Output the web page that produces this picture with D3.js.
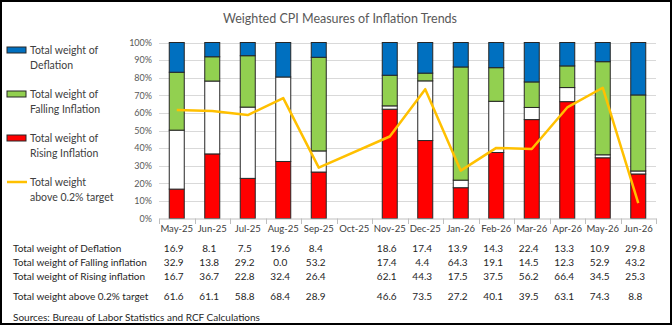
<!DOCTYPE html>
<html>
<head>
<meta charset="utf-8">
<script src="https://cdn.jsdelivr.net/npm/d3@7"></script>
<style>
  html, body { margin: 0; padding: 0; background: #fff; }
  svg { display: block; font-family: Lato, "Open Sans", sans-serif; }
</style>
</head>
<body>
<div id="chart"></div>
<script>
// --- data (percent of CPI weight) ---
const categories = ["May-25","Jun-25","Jul-25","Aug-25","Sep-25","Oct-25","Nov-25",
                    "Dec-25","Jan-26","Feb-26","Mar-26","Apr-26","May-26","Jun-26"];
const deflation   = [16.9, 8.1, 7.5, 19.6, 8.4, null, 18.6, 17.4, 13.9, 14.3, 22.4, 13.3, 10.9, 29.8];
const falling     = [32.9, 13.8, 29.2, 0.0, 53.2, null, 17.4, 4.4, 64.3, 19.1, 14.5, 12.3, 52.9, 43.2];
const rising      = [16.7, 36.7, 22.8, 32.4, 26.4, null, 62.1, 44.3, 17.5, 37.5, 56.2, 66.4, 34.5, 25.3];
const aboveTarget = [61.6, 61.1, 58.8, 68.4, 28.9, null, 46.6, 73.5, 27.2, 40.1, 39.5, 63.1, 74.3, 8.8];
const yTicks = [0, 10, 20, 30, 40, 50, 60, 70, 80, 90, 100];

const W = 672, H = 325;
const COLORS = { rising: "#FF0000", other: "#FFFFFF", falling: "#92D050", deflation: "#0070C0" };
const LINE_COLOR = "#FFC000";

// rows for the stack: white part is whatever is left over
const rows = categories.map((c, i) => ({
    cat: c,
    rising: rising[i] ?? 0,
    falling: falling[i] ?? 0,
    deflation: deflation[i] ?? 0,
    other: deflation[i] == null ? 0 : Math.max(0, 100 - rising[i] - falling[i] - deflation[i]),
    has: deflation[i] != null
}));

const svg = d3.select("#chart").append("svg")
    .attr("width", W).attr("height", H)
    .attr("viewBox", `0 0 ${W} ${H}`);

svg.append("rect")
    .attr("x", 1).attr("y", 1).attr("width", W - 2).attr("height", H - 2)
    .attr("fill", "#fff").attr("stroke", "#000").attr("stroke-width", 2);

svg.append("text")
    .attr("x", 340).attr("y", 23)
    .attr("text-anchor", "middle")
    .style("font-size", "12.5px").style("fill", "#595959")
    .text("Weighted CPI Measures of Inflation Trends");

const x = d3.scaleBand().domain(categories).range([159, 656]).padding(0);
const y = d3.scaleLinear().domain([0, 100]).range([218.5, 42.5]);
const barW = 15;
const cx = c => x(c) + x.bandwidth() / 2;

// gridlines
svg.append("g").selectAll("line").data(yTicks.filter(d => d > 0)).join("line")
    .attr("x1", 159).attr("x2", 656)
    .attr("y1", d => Math.round(y(d)) + 0.5).attr("y2", d => Math.round(y(d)) + 0.5)
    .attr("stroke", "#d9d9d9").attr("stroke-width", 1);

// y axis labels
const yAxis = svg.append("g")
    .attr("transform", "translate(152,0)")
    .call(d3.axisLeft(y).tickValues(yTicks).tickFormat(d => d + "%").tickSize(0).tickPadding(0));
yAxis.select(".domain").remove();
yAxis.selectAll("text").style("font-size", "9px").style("fill", "#595959")
    .style("font-family", "Lato, sans-serif");

// stacked bars
const keys = ["rising", "other", "falling", "deflation"];
const stacked = d3.stack().keys(keys)(rows);
svg.append("g").selectAll("g").data(stacked).join("g")
    .attr("fill", s => COLORS[s.key])
    .selectAll("rect").data(s => s.filter(d => d.data.has && d[1] - d[0] > 0)).join("rect")
    .attr("x", d => cx(d.data.cat) - barW / 2)
    .attr("width", barW)
    .attr("y", d => y(d[1]))
    .attr("height", d => y(d[0]) - y(d[1]))
    .attr("stroke", "#262626").attr("stroke-width", 1);

// x axis
const xAxis = svg.append("g")
    .attr("transform", "translate(0,218.5)")
    .call(d3.axisBottom(x).tickSize(0).tickPadding(7));
xAxis.select(".domain").attr("stroke", "#bfbfbf");
xAxis.selectAll("text").style("font-size", "9.5px").style("fill", "#404040")
    .style("font-family", "Lato, sans-serif");
const bounds = categories.map(c => x(c)).concat([x.range()[1]]);
svg.append("g").selectAll("line").data(bounds).join("line")
    .attr("x1", d => Math.round(d) + 0.5).attr("x2", d => Math.round(d) + 0.5)
    .attr("y1", 218.5).attr("y2", 224)
    .attr("stroke", "#bfbfbf");

// line: above 0.2% target (gap skipped)
const pts = categories.map((c, i) => ({ cat: c, v: aboveTarget[i] })).filter(d => d.v != null);
svg.append("path")
    .datum(pts)
    .attr("fill", "none").attr("stroke", LINE_COLOR).attr("stroke-width", 2.5)
    .attr("stroke-linejoin", "round")
    .attr("d", d3.line().x(d => cx(d.cat)).y(d => y(d.v)));

// legend
const legend = [
    { type: "rect", color: COLORS.deflation, lines: ["Total weight of", "Deflation"], y: 50 },
    { type: "rect", color: COLORS.falling, lines: ["Total weight of", "Falling Inflation"], y: 94 },
    { type: "rect", color: COLORS.rising, lines: ["Total weight of", "Rising Inflation"], y: 138 },
    { type: "line", color: LINE_COLOR, lines: ["Total weight", "above 0.2% target"], y: 182 }
];
const lg = svg.append("g").selectAll("g").data(legend).join("g")
    .attr("transform", d => `translate(0,${d.y})`);
lg.filter(d => d.type === "rect").append("rect")
    .attr("x", 7).attr("y", -3).attr("width", 19).attr("height", 6)
    .attr("fill", d => d.color).attr("stroke", "#262626");
lg.filter(d => d.type === "line").append("line")
    .attr("x1", 7).attr("x2", 27).attr("y1", 0).attr("y2", 0)
    .attr("stroke", d => d.color).attr("stroke-width", 2.5);
lg.append("text")
    .attr("x", 30)
    .style("font-size", "10.5px").style("fill", "#404040")
    .selectAll("tspan").data(d => d.lines).join("tspan")
    .attr("x", 30).attr("y", (d, i) => 4 + i * 14.5)
    .text(d => d);

// data table under the chart
const table = [
    { label: "Total weight of Deflation", vals: deflation, y: 252 },
    { label: "Total weight of Falling inflation", vals: falling, y: 266 },
    { label: "Total weight of Rising inflation", vals: rising, y: 280 },
    { label: "Total weight above 0.2% target", vals: aboveTarget, y: 300 }
];
const tg = svg.append("g").style("font-size", "10px").style("fill", "#262626");
table.forEach(r => {
    tg.append("text").attr("x", 13).attr("y", r.y).text(r.label);
    tg.selectAll(null).data(r.vals.map((v, i) => ({ v, c: categories[i] })).filter(d => d.v != null))
        .join("text")
        .attr("x", d => cx(d.c) - 3).attr("y", r.y)
        .attr("text-anchor", "middle")
        .text(d => d.v.toFixed(1));
});
svg.append("text")
    .attr("x", 13).attr("y", 321)
    .style("font-size", "10px").style("fill", "#262626")
    .text("Sources: Bureau of Labor Statistics and RCF Calculations");
</script>
</body>
</html>
